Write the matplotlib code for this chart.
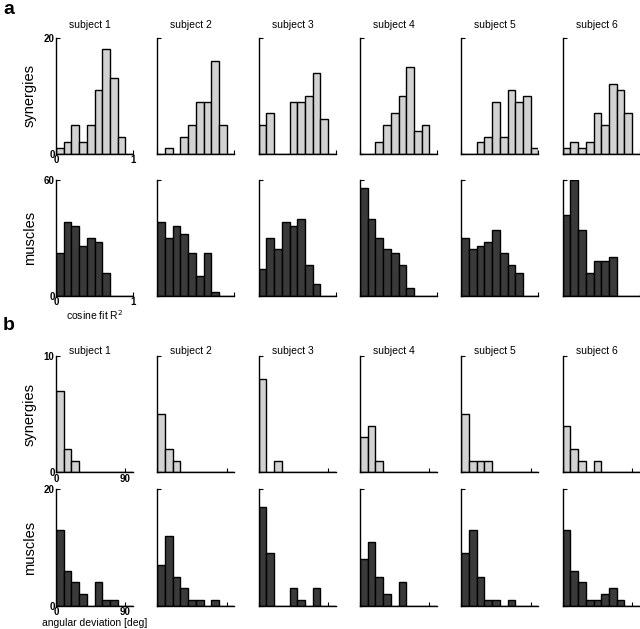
import matplotlib
matplotlib.use("Agg")
import matplotlib.pyplot as plt
import numpy as np

plt.rcParams['font.family'] = ['Liberation Sans', 'DejaVu Sans']

subjects = ["subject 1", "subject 2", "subject 3", "subject 4", "subject 5", "subject 6"]

# Panel a: cosine fit R^2 histograms (10 bins over 0..1)
r2_bins = [0.0, 0.1, 0.2, 0.3, 0.4, 0.5, 0.6, 0.7, 0.8, 0.9]
syn_r2 = [
    [1, 2, 5, 2, 5, 11, 18, 13, 3, 0],
    [0, 1, 0, 3, 5, 9, 9, 16, 5, 0],
    [5, 7, 0, 0, 9, 9, 10, 14, 6, 0],
    [0, 0, 2, 5, 7, 10, 15, 4, 5, 0],
    [0, 0, 2, 3, 9, 3, 11, 9, 10, 1],
    [1, 2, 1, 2, 7, 5, 12, 11, 7, 0],
]
mus_r2 = [
    [22, 38, 36, 26, 30, 28, 12, 0, 0, 0],
    [38, 30, 36, 32, 22, 10, 22, 2, 0, 0],
    [14, 30, 24, 38, 36, 40, 16, 6, 0, 0],
    [56, 40, 30, 24, 22, 16, 4, 0, 0, 0],
    [30, 24, 26, 28, 34, 22, 16, 12, 0, 0],
    [42, 60, 34, 12, 18, 18, 20, 0, 0, 0],
]

# Panel b: angular deviation histograms (10 deg bins over 0..100)
ang_bins = [0, 10, 20, 30, 40, 50, 60, 70, 80, 90]
syn_ang = [
    [7, 2, 1, 0, 0, 0, 0, 0, 0, 0],
    [5, 2, 1, 0, 0, 0, 0, 0, 0, 0],
    [8, 0, 1, 0, 0, 0, 0, 0, 0, 0],
    [3, 4, 1, 0, 0, 0, 0, 0, 0, 0],
    [5, 1, 1, 1, 0, 0, 0, 0, 0, 0],
    [4, 2, 1, 0, 1, 0, 0, 0, 0, 0],
]
mus_ang = [
    [13, 6, 4, 2, 0, 4, 1, 1, 0, 0],
    [7, 12, 5, 3, 1, 1, 0, 1, 0, 0],
    [17, 9, 0, 0, 3, 1, 0, 3, 0, 0],
    [8, 11, 5, 2, 0, 4, 0, 0, 0, 0],
    [9, 13, 5, 1, 1, 0, 1, 0, 0, 0],
    [13, 6, 4, 1, 1, 2, 3, 1, 0, 0],
]

LIGHT = "#d2d2d2"
DARK = "#3a3a3a"

W, H = 640, 629
fig = plt.figure(figsize=(W / 100, H / 100), dpi=100)

col_left = [56, 157.3, 258.7, 360, 461.3, 562.7]
ax_w = 77
rows = [  # (top px, bottom px)
    (37.7, 154.0),
    (180.0, 295.7),
    (356.0, 472.3),
    (489.3, 605.7),
]

row_specs = [
    dict(data=syn_r2, bins=r2_bins, width=0.1, color=LIGHT, ylim=20, xlim=(0, 1), xticks=[0, 1], xtl=["0", "1"], ylabel="synergies", title_pad=7, xlabel=None),
    dict(data=mus_r2, bins=r2_bins, width=0.1, color=DARK, ylim=60, xlim=(0, 1), xticks=[0, 1], xtl=["0", "1"], ylabel="muscles", title_pad=None, xlabel="cosine fit R$^2$"),
    dict(data=syn_ang, bins=ang_bins, width=10, color=LIGHT, ylim=10, xlim=(0, 100), xticks=[0, 90], xtl=["0", "90"], ylabel="synergies", title_pad=1.5, xlabel=None),
    dict(data=mus_ang, bins=ang_bins, width=10, color=DARK, ylim=20, xlim=(0, 100), xticks=[0, 90], xtl=["0", "90"], ylabel="muscles", title_pad=None, xlabel="angular deviation [deg]"),
]

for r, spec in enumerate(row_specs):
    top, bot = rows[r]
    for c in range(6):
        ax = fig.add_axes([col_left[c] / W, 1 - bot / H, ax_w / W, (bot - top) / H])
        vals = spec["data"][c]
        ax.bar(spec["bins"], vals, width=spec["width"], align="edge",
               color=spec["color"], edgecolor="black", linewidth=1.0)
        ax.set_xlim(*spec["xlim"])
        ax.set_ylim(0, spec["ylim"])
        for s in ["top", "right"]:
            ax.spines[s].set_visible(False)
        for s in ["left", "bottom"]:
            ax.spines[s].set_linewidth(1.0)
        ax.set_yticks([0, spec["ylim"]])
        ax.set_xticks(spec["xticks"])
        ax.tick_params(direction="in", length=3, width=0.8, labelsize=7, pad=1)
        if c == 0:
            ax.set_yticklabels(["0", str(spec["ylim"])], fontweight="bold")
            ax.set_xticklabels(spec["xtl"], fontweight="bold")
            ax.set_ylabel(spec["ylabel"], fontsize=10.5, labelpad=5)
            if spec["xlabel"]:
                ax.set_xlabel(spec["xlabel"], fontsize=7.5, labelpad=1)
        else:
            ax.set_yticklabels([])
            ax.set_xticklabels([])
        if spec["title_pad"] is not None:
            ax.set_title(subjects[c], fontsize=7.5, pad=spec["title_pad"], x=0.44)

fig.text(3 / W, 1 - 9 / H, "a", fontsize=14, fontweight="bold", va="center", ha="left")
fig.text(3 / W, 1 - 326 / H, "b", fontsize=14, fontweight="bold", va="center", ha="left")

fig.savefig("out.png", dpi=100)
